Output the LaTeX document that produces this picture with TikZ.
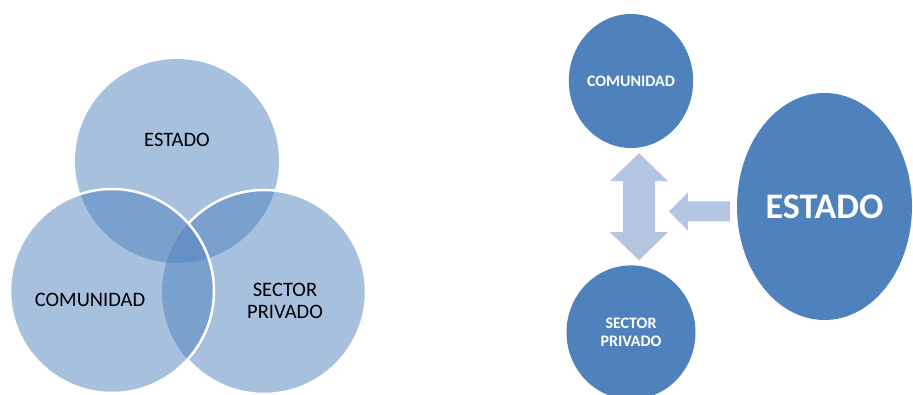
\documentclass[tikz,border=0pt]{standalone}
\usepackage{fontspec}
\setmainfont{Carlito}
\usetikzlibrary{shapes.geometric}
\usetikzlibrary{positioning}
\definecolor{officeblue}{RGB}{79,129,189}
\definecolor{arrowblue}{RGB}{180,197,225}
\tikzset{
    venn/.style={
           circle,
           minimum size=204pt,
           inner sep=0pt,
           fill=officeblue, fill opacity=0.5,
           },
    vennline/.style={draw=white, line width=2.5pt},
    venntext/.style={
           font=\fontsize{20.5}{22}\selectfont,
           align=center,
           },
    bubble/.style={
           ellipse,
           fill=officeblue,
           inner sep=0pt,
           text=white,
           align=center,
           font=\bfseries\fontsize{16}{18}\selectfont,
           },
    blockarrow/.style={fill=arrowblue},
}

\begin{document}
\begin{tikzpicture}[x=1pt,y=-1pt]
  \useasboundingbox (0,0) rectangle (913,395);
  % venn
  \node[venn] (v_est) at (177,161) {};
  \node[venn] (v_sec) at (264,292) {};
  \node[venn] (v_com) at (112,291) {};
  \begin{scope}[even odd rule]
    \clip (0,0) rectangle (913,395) (v_com.center) circle[radius=102];
    \draw[vennline] (v_sec.center) circle[radius=102];
  \end{scope}
  \draw[vennline] (v_com.center) circle[radius=102];
  \node[venntext] (t_est) at (177,140) {ESTADO};
  \node[venntext] (t_com) at (90,300) {COMUNIDAD};
  \node[venntext] (t_sec) at (285,301) {SECTOR\\PRIVADO};
  % bubbles
  \node[bubble, minimum width=124pt, minimum height=134pt] (b_com) at (631,81) {COMUNIDAD};
  \node[bubble, minimum width=129pt, minimum height=134pt] (b_sec) [below=117pt of b_com] {SECTOR\\PRIVADO};
  \node[bubble, minimum width=175pt, minimum height=227pt,
        font=\bfseries\fontsize{36}{42}\selectfont] (b_est) at (824.5,206.5) {ESTADO};
  % arrows
  \coordinate (up_tip) at ([xshift=8pt,yshift=-5pt]b_com.south);
  \coordinate (left_tail) at ([xshift=-7pt,yshift=-5pt]b_est.west);
  \fill[blockarrow] (up_tip) -- ++(29,28) -- ++(-13,0) -- ++(0,51) -- ++(13,0)
        -- ++(-29,28) -- ++(-29,-28) -- ++(13,0) -- ++(0,-51) -- ++(-13,0) -- cycle;
  \fill[blockarrow] (left_tail) ++(0,-10) -- ++(-42,0) -- ++(0,-9) -- ++(-19,19)
        -- ++(19,19) -- ++(0,-9) -- ++(42,0) -- cycle;
\end{tikzpicture}
\end{document}
